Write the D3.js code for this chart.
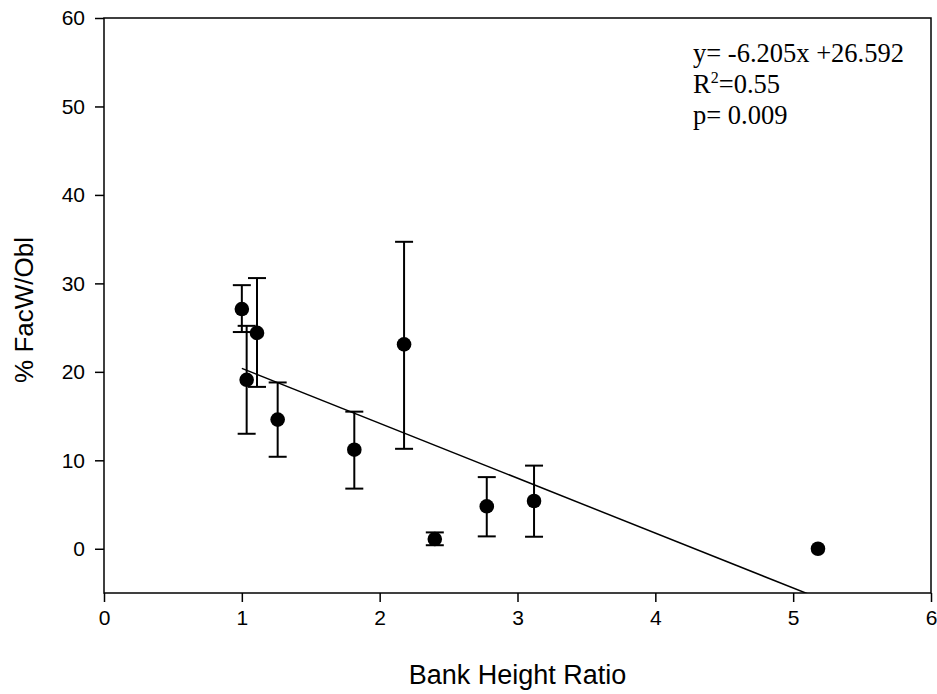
<!DOCTYPE html>
<html>
<head>
<meta charset="utf-8">
<script src="https://cdn.jsdelivr.net/npm/d3@7"></script>
<style>
  body { margin: 0; background: #fff; }
  svg { display: block; }
</style>
</head>
<body>
<svg id="chart"></svg>
<script>
var width = 937;
var height = 694;
var margin = { top: 18, right: 6, bottom: 101, left: 104 };
var chart_width = width - (margin.left + margin.right);
var chart_height = height - (margin.top + margin.bottom);

// bank height ratio vs % FacW/Obl, with error bars
var ratio   = [1.0, 1.11, 1.035, 1.26, 1.816, 2.177, 2.40, 2.777, 3.12, 5.18];
var facw    = [27.1, 24.4, 19.1, 14.6, 11.2, 23.1, 1.1, 4.8, 5.4, 0];
var err_hi  = [29.8, 30.6, 25.2, 18.8, 15.5, 34.7, 1.85, 8.1, 9.4, null];
var err_lo  = [24.5, 18.3, 13.0, 10.4, 6.8, 11.3, 0.4, 1.4, 1.36, null];
var x_ticks = [0, 1, 2, 3, 4, 5, 6];
var y_ticks = [0, 10, 20, 30, 40, 50, 60];
var slope = -6.205, intercept = 26.592;
var notes = ["y= -6.205x +26.592", "R2=0.55", "p= 0.009"];

var xScale = d3.scaleLinear().domain([0, 6]).range([0, chart_width]);
var yScale = d3.scaleLinear().domain([-5, 60]).range([chart_height, 0]);

var svg = d3.select("#chart").attr("width", width).attr("height", height);

var g = svg.append("g")
	.attr("transform", "translate(" + margin.left + "," + margin.top + ")");

g.append("clipPath").attr("id", "plotclip")
	.append("rect").attr("width", chart_width).attr("height", chart_height);

// frame
g.append("rect")
	.attr("width", chart_width)
	.attr("height", chart_height)
	.style("fill", "none")
	.style("stroke", "black")
	.style("stroke-width", "1.5px");

var xAxis = d3.axisBottom(xScale).tickValues(x_ticks).tickFormat(d3.format("d"))
	.tickSize(9).tickSizeOuter(0).tickPadding(8);
var yAxis = d3.axisLeft(yScale).tickValues(y_ticks).tickFormat(d3.format("d"))
	.tickSize(9).tickSizeOuter(0).tickPadding(10);

var gx = g.append("g")
	.attr("transform", "translate(0," + chart_height + ")")
	.call(xAxis);
var gy = g.append("g").call(yAxis);

[gx, gy].forEach(function(a) {
	a.select(".domain").remove();
	a.selectAll("line").style("stroke", "black").style("stroke-width", "1.5px");
	a.selectAll("text")
		.style("font-family", "Liberation Sans, Arial, sans-serif")
		.style("font-size", "21px")
		.style("fill", "black");
});

// regression line, clipped to the plot box
var x0 = d3.min(ratio), x1 = d3.max(ratio);
g.append("line")
	.attr("clip-path", "url(#plotclip)")
	.attr("x1", xScale(x0)).attr("y1", yScale(slope * x0 + intercept))
	.attr("x2", xScale(x1)).attr("y2", yScale(slope * x1 + intercept))
	.style("stroke", "black")
	.style("stroke-width", "1.5px");

var pts = ratio.map(function(r, i) {
	return { x: r, y: facw[i], hi: err_hi[i], lo: err_lo[i] };
});
var withErr = pts.filter(function(d) { return d.hi != null; });

var cap = 9;
var bars = g.append("g").selectAll("g").data(withErr).enter().append("g")
	.style("stroke", "black").style("stroke-width", "2px");
bars.append("line")
	.attr("x1", function(d) { return xScale(d.x); })
	.attr("x2", function(d) { return xScale(d.x); })
	.attr("y1", function(d) { return yScale(d.hi); })
	.attr("y2", function(d) { return yScale(d.lo); });
bars.append("line")
	.attr("x1", function(d) { return xScale(d.x) - cap; })
	.attr("x2", function(d) { return xScale(d.x) + cap; })
	.attr("y1", function(d) { return yScale(d.hi); })
	.attr("y2", function(d) { return yScale(d.hi); });
bars.append("line")
	.attr("x1", function(d) { return xScale(d.x) - cap; })
	.attr("x2", function(d) { return xScale(d.x) + cap; })
	.attr("y1", function(d) { return yScale(d.lo); })
	.attr("y2", function(d) { return yScale(d.lo); });

g.append("g").selectAll("circle").data(pts).enter().append("circle")
	.attr("cx", function(d) { return xScale(d.x); })
	.attr("cy", function(d) { return yScale(d.y); })
	.attr("r", 7.3)
	.style("fill", "black");

// axis titles
svg.append("text")
	.attr("x", margin.left + chart_width / 2)
	.attr("y", 684)
	.attr("text-anchor", "middle")
	.style("font-family", "Liberation Sans, Arial, sans-serif")
	.style("font-size", "27px")
	.text("Bank Height Ratio");

svg.append("text")
	.attr("transform", "translate(33," + 310 + ") rotate(-90)")
	.attr("text-anchor", "middle")
	.style("font-family", "Liberation Sans, Arial, sans-serif")
	.style("font-size", "26px")
	.text("% FacW/Obl");

// regression notes
var note = svg.append("g").style("font-family", "Liberation Serif, Times New Roman, serif")
	.style("font-size", "26.5px");
note.append("text").attr("x", 693).attr("y", 62).text(notes[0]);
var r2 = note.append("text").attr("x", 693).attr("y", 93);
r2.append("tspan").text("R");
r2.append("tspan").attr("dy", -10).style("font-size", "16px").text("2");
r2.append("tspan").attr("dy", 10).text("=0.55");
note.append("text").attr("x", 693).attr("y", 124).text(notes[2]);
</script>
</body>
</html>
